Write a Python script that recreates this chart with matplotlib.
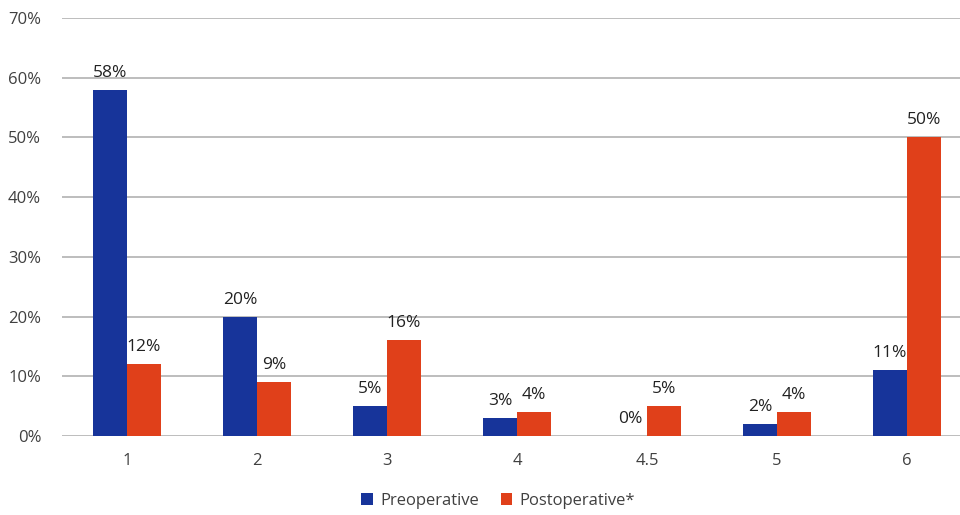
import matplotlib
matplotlib.use("Agg")
import matplotlib.pyplot as plt
import numpy as np

categories = ["1", "2", "3", "4", "4.5", "5", "6"]
preoperative = [58, 20, 5, 3, 0, 2, 11]
postoperative = [12, 9, 16, 4, 5, 4, 50]

blue = "#17349a"
orange = "#e0401a"
text_color = "#404040"

plt.rcParams["font.family"] = ["Open Sans", "DejaVu Sans"]

fig = plt.figure(figsize=(9.6, 5.15), dpi=100)
ax = fig.add_axes([0.0646, 0.1534, 0.9354, 0.8117])

x = np.arange(len(categories))
w = 0.262
b1 = ax.bar(x - w / 2, preoperative, w, color=blue, label="Preoperative", zorder=3)
b2 = ax.bar(x + w / 2, postoperative, w, color=orange, label="Postoperative*", zorder=3)

for bars, vals in ((b1, preoperative), (b2, postoperative)):
    for rect, v in zip(bars, vals):
        ax.text(rect.get_x() + rect.get_width() / 2, v + 1.5, f"{v}%",
                ha="center", va="bottom", fontsize=12.5, color="#222222")

ax.set_ylim(0, 70)
ax.set_xlim(-0.5, -0.5 + 898 / 130)
ax.set_yticks(range(0, 71, 10))
ax.set_yticklabels([f"{t}%" for t in range(0, 71, 10)])
ax.set_xticks(x)
ax.set_xticklabels(categories)
ax.tick_params(axis="both", length=0, labelsize=12, colors=text_color)
ax.tick_params(axis="y", pad=15)
ax.tick_params(axis="x", pad=12)
ax.grid(axis="y", color="#bdbdbd", linewidth=1.4, zorder=0)
for s in ax.spines.values():
    s.set_visible(False)

fig.legend(loc="center", bbox_to_anchor=(0.519, 0.028), ncol=2, frameon=False,
           fontsize=12, handlelength=0.7, handleheight=0.7, columnspacing=1.3,
           handletextpad=0.45, labelcolor=text_color)

fig.savefig("out.png", dpi=100)
